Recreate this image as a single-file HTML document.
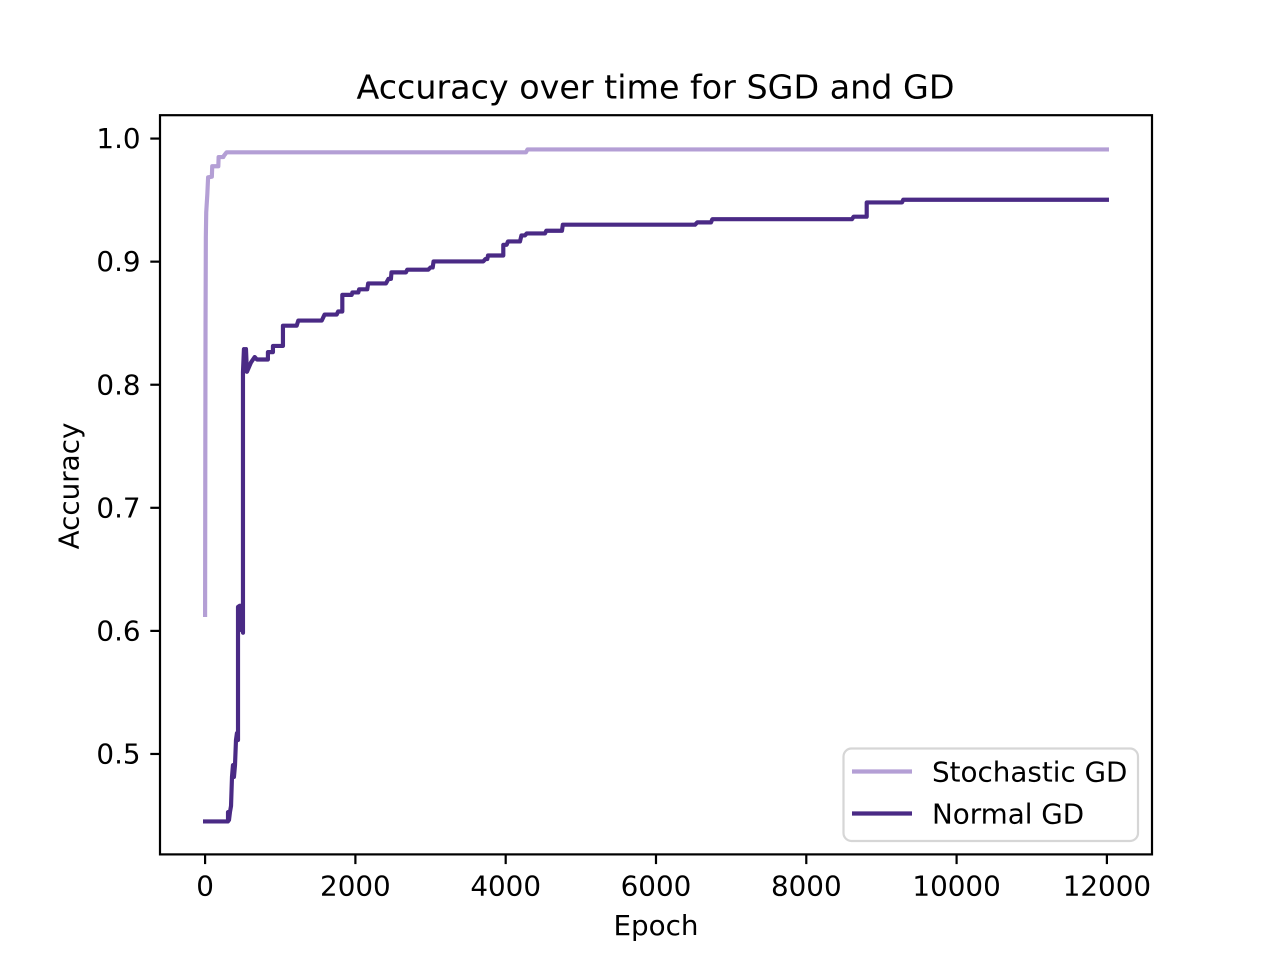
<!DOCTYPE html>
<html lang="en">
<head>
<meta charset="utf-8">
<title>Accuracy over time for SGD and GD</title>
<style>
html,body{margin:0;padding:0;background:#fff;width:1280px;height:960px;overflow:hidden}
svg{display:block}
text{font-family:"DejaVu Sans","Liberation Sans",sans-serif;fill:#000}
</style>
</head>
<body>
<svg id="chart" xmlns="http://www.w3.org/2000/svg" width="1280" height="960" viewBox="0 0 1280 960">
  <rect x="0" y="0" width="1280" height="960" fill="#fff"/>
  <text x="655.5" y="98.5" font-size="33.33" text-anchor="middle">Accuracy over time for SGD and GD</text>
  <text x="656" y="935" font-size="27.78" text-anchor="middle">Epoch</text>
  <text transform="translate(78.5,486) rotate(-90)" font-size="27.78" text-anchor="middle">Accuracy</text>
  <g id="ticks"></g>
  <g id="series"></g>
  <rect x="160" y="115.2" width="992" height="739.2" fill="none" stroke="#000" stroke-width="2.2"/>
  <g>
    <rect x="843.5" y="748.5" width="294.5" height="92.5" rx="8" ry="8" fill="#fff" fill-opacity="0.8" stroke="#d6d6d6" stroke-width="2.2"/>
    <line x1="852" y1="771.5" x2="912" y2="771.5" stroke="#b49fd5" stroke-width="4.17"/>
    <text x="932" y="781.5" font-size="27.78">Stochastic GD</text>
    <line x1="852" y1="813.5" x2="912" y2="813.5" stroke="#4a2a85" stroke-width="4.17"/>
    <text x="932" y="823.5" font-size="27.78">Normal GD</text>
  </g>
</svg>
<script>
var xTickValues = [0, 2000, 4000, 6000, 8000, 10000, 12000];
var yTickValues = [0.5, 0.6, 0.7, 0.8, 0.9, 1.0];
var yTickLabels = ["0.5", "0.6", "0.7", "0.8", "0.9", "1.0"];

var stochasticEpochs = [0, 3, 6, 10, 15, 30, 40, 90, 95, 176, 180, 243, 250, 285, 4270, 4290, 12000];
var stochasticAccuracy = [0.613, 0.75, 0.85, 0.92, 0.94, 0.955, 0.9685, 0.969, 0.9775, 0.9775, 0.985, 0.985, 0.986, 0.9888, 0.9888, 0.9912, 0.9912];

var normalEpochs = [0, 305, 305, 318, 331, 345, 358, 371, 384, 398, 411, 424, 438, 438, 438, 438, 464, 477, 491, 504, 504, 517, 530, 544, 557, 610, 660, 690, 836, 836, 903, 903, 1036, 1036,
  1219, 1240, 1552, 1590, 1751, 1770, 1826, 1826, 1951, 1960, 2039, 2050, 2158, 2170, 2407, 2440, 2473, 2480, 2673, 2690, 2970, 3000, 3029, 3040, 3702, 3730, 3755, 3765, 3968, 3968, 4013, 4030, 4190, 4210, 4256, 4280, 4523, 4540, 4749, 4760, 6519, 6550, 6732, 6750, 8608, 8630, 8804, 8804, 9274, 9290, 12000];
var normalAccuracy = [0.4452, 0.4452, 0.4528, 0.4464, 0.4528, 0.4577, 0.4813, 0.491, 0.4813, 0.491, 0.5113, 0.517, 0.5113, 0.5243, 0.5926, 0.6195, 0.6205, 0.6007, 0.62, 0.5985, 0.8103, 0.829, 0.811, 0.829, 0.8105, 0.818, 0.8225, 0.8205, 0.8205, 0.8265, 0.8265, 0.8315, 0.8315, 0.848,
  0.848, 0.8521, 0.8521, 0.857, 0.857, 0.8595, 0.8595, 0.873, 0.873, 0.875, 0.875, 0.8775, 0.8775, 0.8823, 0.8823, 0.886, 0.886, 0.8913, 0.8913, 0.8935, 0.8935, 0.8953, 0.8953, 0.9002, 0.9002, 0.9021, 0.9021, 0.905, 0.905, 0.9137, 0.9137, 0.9164, 0.9164, 0.9213, 0.9213, 0.9229, 0.9229, 0.9251, 0.9251, 0.93, 0.93, 0.9319, 0.9319, 0.9345, 0.9345, 0.9365, 0.9365, 0.9481, 0.9481, 0.9503, 0.9503];

var NS = "http://www.w3.org/2000/svg";
function xScale(epoch) { return 205.09 + epoch * 0.07515; }
function yScale(acc) { return 820.8 - (acc - 0.4457) * 1230.8; }

function pathFrom(epochs, values) {
  var d = "";
  for (var i = 0; i < epochs.length; i++) {
    d += (i ? "L" : "M") + xScale(epochs[i]).toFixed(2) + " " + yScale(values[i]).toFixed(2);
  }
  return d;
}

var tickLayer = document.getElementById("ticks");
xTickValues.forEach(function (value) {
  var x = xScale(value);
  var mark = document.createElementNS(NS, "line");
  
  
  mark.setAttribute("x1", x); mark.setAttribute("x2", x);
  mark.setAttribute("y1", 854.4); mark.setAttribute("y2", 864.1);
  mark.setAttribute("stroke", "#000"); mark.setAttribute("stroke-width", 2.2);
  tickLayer.appendChild(mark);
  var label = document.createElementNS(NS, "text");
  
  
  label.setAttribute("x", x); label.setAttribute("y", 895.5);
  label.setAttribute("font-size", 27.78);
  label.setAttribute("text-anchor", "middle");
  label.textContent = String(value);
  tickLayer.appendChild(label);
});
yTickValues.forEach(function (value, i) {
  var y = yScale(value);
  var mark = document.createElementNS(NS, "line");
  
  
  mark.setAttribute("x1", 150.3); mark.setAttribute("x2", 160);
  mark.setAttribute("y1", y); mark.setAttribute("y2", y);
  mark.setAttribute("stroke", "#000"); mark.setAttribute("stroke-width", 2.2);
  tickLayer.appendChild(mark);
  var label = document.createElementNS(NS, "text");
  
  
  label.setAttribute("x", 140.6); label.setAttribute("y", y + 9.6);
  label.setAttribute("font-size", 27.78);
  label.setAttribute("text-anchor", "end");
  label.textContent = yTickLabels[i];
  tickLayer.appendChild(label);
});

var seriesLayer = document.getElementById("series");
var stochasticLine = document.createElementNS(NS, "path");


stochasticLine.setAttribute("d", pathFrom(stochasticEpochs, stochasticAccuracy));
stochasticLine.setAttribute("fill", "none");
stochasticLine.setAttribute("stroke", "#b49fd5");
stochasticLine.setAttribute("stroke-width", 4.17);
stochasticLine.setAttribute("stroke-linejoin", "round");
stochasticLine.setAttribute("stroke-linecap", "square");
seriesLayer.appendChild(stochasticLine);

var normalLine = document.createElementNS(NS, "path");


normalLine.setAttribute("d", pathFrom(normalEpochs, normalAccuracy));
normalLine.setAttribute("fill", "none");
normalLine.setAttribute("stroke", "#4a2a85");
normalLine.setAttribute("stroke-width", 4.17);
normalLine.setAttribute("stroke-linejoin", "round");
normalLine.setAttribute("stroke-linecap", "square");
seriesLayer.appendChild(normalLine);
</script>
</body>
</html>
